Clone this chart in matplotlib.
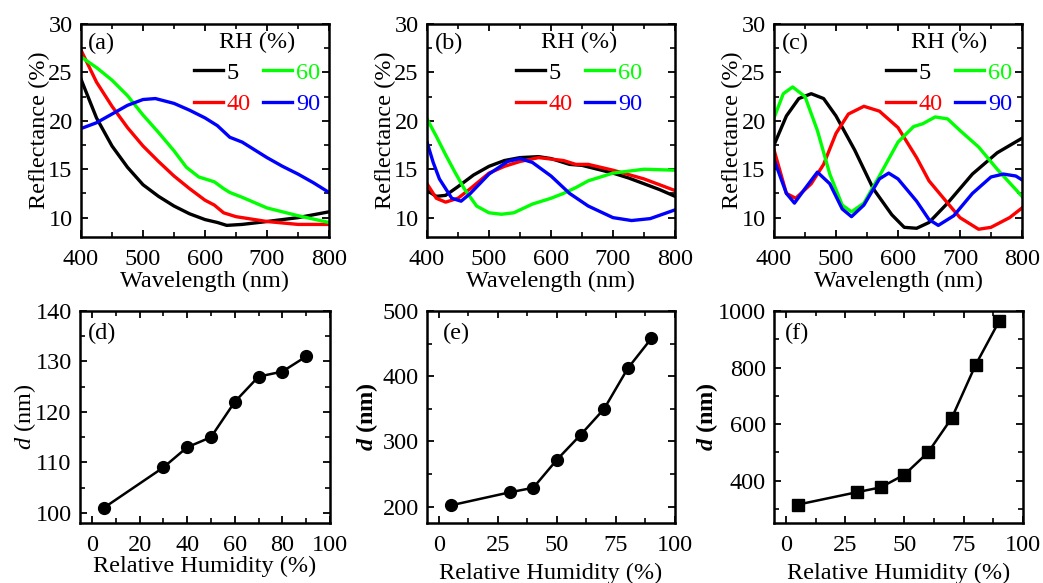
import matplotlib
matplotlib.use("Agg")
import matplotlib.pyplot as plt
from matplotlib.ticker import MultipleLocator, AutoMinorLocator

plt.rcParams['font.family'] = ['Liberation Serif', 'DejaVu Serif']
plt.rcParams['mathtext.fontset'] = 'custom'
plt.rcParams['mathtext.rm'] = 'Liberation Serif'
plt.rcParams['mathtext.it'] = 'Liberation Serif:italic'
plt.rcParams['mathtext.bf'] = 'Liberation Serif:bold:italic'

# ---------------- data ----------------
rh_labels = ['5', '40', '60', '90']
colors = ['#000000', '#ff0000', '#00ff00', '#0000ff']

# panel (a)
a5_x = [400, 425, 450, 475, 500, 525, 550, 575, 600, 620, 635, 660, 700, 750, 800]
a5_y = [24.3, 20.3, 17.4, 15.2, 13.4, 12.2, 11.2, 10.4, 9.8, 9.5, 9.2, 9.3, 9.6, 10.0, 10.6]
a40_x = [400, 425, 450, 475, 500, 525, 550, 575, 600, 615, 630, 650, 700, 750, 800]
a40_y = [27.3, 24.0, 21.5, 19.3, 17.4, 15.8, 14.3, 13.0, 11.8, 11.3, 10.5, 10.1, 9.6, 9.3, 9.3]
a60_x = [400, 425, 450, 475, 500, 525, 550, 570, 590, 600, 615, 630, 640, 660, 700, 750, 800]
a60_y = [26.6, 25.5, 24.2, 22.6, 20.6, 18.8, 16.9, 15.2, 14.2, 14.0, 13.7, 13.0, 12.6, 12.1, 11.0, 10.2, 9.5]
a90_x = [400, 425, 450, 475, 500, 520, 550, 575, 600, 620, 640, 660, 680, 700, 725, 750, 775, 800]
a90_y = [19.2, 19.8, 20.7, 21.6, 22.2, 22.3, 21.8, 21.1, 20.3, 19.5, 18.3, 17.8, 17.0, 16.2, 15.3, 14.5, 13.6, 12.6]

# panel (b)
b5_x = [400, 415, 430, 450, 475, 500, 525, 550, 580, 600, 630, 650, 675, 700, 725, 750, 775, 800]
b5_y = [12.8, 12.2, 12.3, 13.2, 14.4, 15.3, 15.9, 16.2, 16.3, 16.1, 15.5, 15.4, 15.0, 14.6, 14.1, 13.5, 12.9, 12.2]
b40_x = [400, 415, 430, 450, 470, 500, 525, 550, 580, 620, 640, 660, 700, 750, 800]
b40_y = [13.5, 12.0, 11.6, 12.0, 13.0, 14.6, 15.3, 15.8, 16.2, 15.9, 15.5, 15.5, 14.9, 14.0, 12.8]
b60_x = [400, 415, 430, 445, 460, 480, 500, 520, 540, 570, 600, 620, 640, 660, 680, 700, 750, 800]
b60_y = [20.2, 18.4, 16.5, 14.7, 13.0, 11.2, 10.5, 10.35, 10.5, 11.4, 12.0, 12.5, 13.1, 13.8, 14.2, 14.6, 15.0, 14.9]
b90_x = [400, 410, 420, 440, 455, 470, 500, 530, 550, 570, 600, 630, 660, 700, 730, 760, 800]
b90_y = [17.8, 15.7, 14.0, 12.0, 11.7, 12.5, 14.5, 15.8, 16.1, 15.7, 14.3, 12.5, 11.2, 10.0, 9.7, 9.9, 10.8]

# panel (c)
c5_x = [400, 420, 440, 460, 480, 500, 530, 560, 590, 610, 630, 650, 680, 720, 760, 800]
c5_y = [17.5, 20.5, 22.3, 22.8, 22.3, 20.5, 17.0, 13.0, 10.3, 9.0, 8.9, 9.5, 11.5, 14.5, 16.7, 18.2]
c40_x = [400, 420, 435, 460, 480, 500, 520, 545, 570, 600, 630, 650, 680, 700, 730, 750, 780, 800]
c40_y = [17.0, 12.5, 12.0, 13.5, 15.5, 18.7, 20.7, 21.5, 21.0, 19.3, 16.2, 13.8, 11.5, 10.0, 8.8, 9.0, 10.0, 11.0]
c60_x = [400, 415, 430, 450, 470, 490, 510, 525, 545, 570, 600, 625, 640, 660, 680, 700, 730, 760, 800]
c60_y = [20.3, 22.8, 23.5, 22.5, 19.0, 14.5, 11.3, 10.6, 11.5, 14.3, 17.8, 19.4, 19.7, 20.4, 20.2, 19.0, 17.3, 15.0, 12.2]
c90_x = [400, 420, 433, 450, 470, 490, 510, 525, 545, 570, 585, 600, 630, 650, 665, 690, 720, 750, 770, 790, 800]
c90_y = [16.0, 12.5, 11.5, 13.0, 14.7, 13.5, 10.9, 10.1, 11.3, 14.0, 14.6, 14.0, 11.7, 9.8, 9.2, 10.2, 12.5, 14.2, 14.5, 14.3, 13.9]

# bottom panels
rh = [5, 30, 40, 50, 60, 70, 80, 90]
d_d = [101, 109, 113, 115, 122, 127, 128, 131]
d_e = [202, 222, 229, 272, 310, 350, 412, 458]
d_f = [315, 359, 376, 421, 500, 622, 809, 965]

spectra = [
    ('(a)', [(a5_x, a5_y), (a40_x, a40_y), (a60_x, a60_y), (a90_x, a90_y)]),
    ('(b)', [(b5_x, b5_y), (b40_x, b40_y), (b60_x, b60_y), (b90_x, b90_y)]),
    ('(c)', [(c5_x, c5_y), (c40_x, c40_y), (c60_x, c60_y), (c90_x, c90_y)]),
]

W, H = 1043, 583
fig = plt.figure(figsize=(W / 100, H / 100), dpi=100)

FS = 17.5

def style(ax):
    ax.tick_params(which='both', direction='in', top=True, right=True, labelsize=FS)
    ax.tick_params(axis='x', which='both', pad=8.5)
    ax.tick_params(axis='y', which='both', pad=6)
    ax.tick_params(which='major', length=5, width=1.3)
    ax.tick_params(which='minor', length=3.5, width=1.2)
    for s in ax.spines.values():
        s.set_linewidth(1.8)

top_lefts = [81, 427, 774]
leg_right = [0.964, 0.867, 0.96]
lab_x = [7, 8, 8]
for i, (lab, series) in enumerate(spectra):
    ax = fig.add_axes([top_lefts[i] / W, 1 - 237 / H, 248 / W, 213 / H])
    for (x, y), c, l in zip(series, colors, rh_labels):
        ax.plot(x, y, color=c, lw=2.4, label=l)
    ax.set_xlim(400, 800)
    ax.set_ylim(8, 30)
    ax.xaxis.set_major_locator(MultipleLocator(100))
    ax.xaxis.set_minor_locator(MultipleLocator(50))
    ax.yaxis.set_major_locator(MultipleLocator(5))
    ax.yaxis.set_minor_locator(MultipleLocator(2.5))
    style(ax)
    ax.set_xlabel('Wavelength (nm)', fontsize=FS, labelpad=1)
    ax.set_ylabel('Reflectance (%)', fontsize=FS, labelpad=-1)
    ax.text(lab_x[i] / 248, 1 - 19 / 213, lab, transform=ax.transAxes, fontsize=FS,
            va='center', ha='left')
    h, l = ax.get_legend_handles_labels()
    ax.legend(h, l, ncol=2, title='RH (%)', frameon=False, fontsize=FS,
              title_fontsize=FS, labelcolor='linecolor', handlelength=1.2,
              handletextpad=0.15, columnspacing=0.5, labelspacing=0.38,
              loc='upper right', bbox_to_anchor=(leg_right[i], 0.965),
              borderaxespad=0, borderpad=0)

bot = [
    ('(d)', d_d, 'o', (98, 140), 10, 5, r'$\mathit{d}$ (nm)', 20, 'normal'),
    ('(e)', d_e, 'o', (175, 500), 100, 50, r'$\mathbf{d}$ (nm)', 25, 'bold'),
    ('(f)', d_f, 's', (250, 1000), 200, 100, r'$\mathbf{d}$ (nm)', 25, 'bold'),
]
bot_lefts = [80, 427, 774]
bot_w = [250, 248, 249]
blab_x = [8, 16, 11]
ylpad = [-2, 2, -2]
xlpad = [0, 5, 5]
for i, (lab, y, mk, ylim, ymaj, ymin, ylab, xmaj, wt) in enumerate(bot):
    ax = fig.add_axes([bot_lefts[i] / W, 1 - 523 / H, bot_w[i] / W, 212 / H])
    ax.plot(rh, y, color='black', lw=1.8, marker=mk, markersize=8.5 if mk == 'o' else 8)
    ax.set_xlim(-5, 100)
    ax.set_ylim(*ylim)
    ax.xaxis.set_major_locator(MultipleLocator(xmaj))
    ax.xaxis.set_minor_locator(AutoMinorLocator(2))
    ax.yaxis.set_major_locator(MultipleLocator(ymaj))
    ax.yaxis.set_minor_locator(MultipleLocator(ymin))
    style(ax)
    ax.set_xlabel('Relative Humidity (%)', fontsize=FS, labelpad=xlpad[i])
    ax.set_ylabel(ylab, fontsize=FS, labelpad=ylpad[i], fontweight=wt)
    ax.text(blab_x[i] / bot_w[i], 1 - 22 / 212, lab, transform=ax.transAxes, fontsize=FS,
            va='center', ha='left')

fig.savefig('out.png', dpi=100)
